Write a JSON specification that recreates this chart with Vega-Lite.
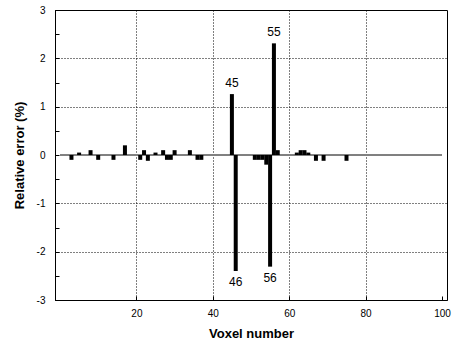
{
  "$schema": "https://vega.github.io/schema/vega-lite/v6.json",
  "width": 392,
  "height": 290,
  "autosize": "none",
  "padding": {"left": 55, "top": 10, "right": 10, "bottom": 45},
  "background": "white",
  "config": {
    "view": {"stroke": "black", "strokeWidth": 1},
    "font": "Liberation Sans"
  },
  "data": {
    "values": [
      {"voxel": 3, "error": -0.1},
      {"voxel": 5, "error": 0.05},
      {"voxel": 8, "error": 0.1},
      {"voxel": 10, "error": -0.1},
      {"voxel": 14, "error": -0.1},
      {"voxel": 17, "error": 0.2},
      {"voxel": 21, "error": -0.1},
      {"voxel": 22, "error": 0.1},
      {"voxel": 23, "error": -0.12},
      {"voxel": 25, "error": 0.05},
      {"voxel": 27, "error": 0.1},
      {"voxel": 28, "error": -0.1},
      {"voxel": 29, "error": -0.1},
      {"voxel": 30, "error": 0.1},
      {"voxel": 34, "error": 0.1},
      {"voxel": 36, "error": -0.1},
      {"voxel": 37, "error": -0.1},
      {"voxel": 45, "error": 1.26, "label": "45"},
      {"voxel": 46, "error": -2.4, "label": "46"},
      {"voxel": 51, "error": -0.1},
      {"voxel": 52, "error": -0.1},
      {"voxel": 53, "error": -0.1},
      {"voxel": 54, "error": -0.2},
      {"voxel": 55, "error": -2.31, "label": "56"},
      {"voxel": 56, "error": 2.31, "label": "55"},
      {"voxel": 57, "error": 0.1},
      {"voxel": 62, "error": 0.05},
      {"voxel": 63, "error": 0.1},
      {"voxel": 64, "error": 0.1},
      {"voxel": 65, "error": 0.05},
      {"voxel": 67, "error": -0.12},
      {"voxel": 69, "error": -0.12},
      {"voxel": 75, "error": -0.12}
    ]
  },
  "encoding": {
    "x": {
      "field": "voxel",
      "type": "quantitative",
      "scale": {"domain": [0, 100], "nice": false, "zero": false},
      "axis": {
        "title": "Voxel number",
        "tickCount": 5,
        "labelExpr": "datum.value === 0 ? '' : '' + datum.value",
        "grid": true,
        "gridColor": "black",
        "gridDash": [1, 2],
        "gridOpacity": {"condition": {"test": "datum.value > 0 && datum.value < 100", "value": 1}, "value": 0},
        "tickColor": "black",
        "tickOpacity": {"condition": {"test": "datum.value > 0", "value": 1}, "value": 0},
        "tickSize": -4,
        "domainColor": "black",
        "labelColor": "black",
        "labelFont": "Liberation Sans",
        "labelFontSize": 10,
        "labelPadding": 12,
        "titleColor": "black",
        "titleFont": "Liberation Sans",
        "titleFontSize": 13,
        "titleFontWeight": "bold",
        "titlePadding": 9
      }
    },
    "y": {
      "field": "error",
      "type": "quantitative",
      "scale": {"domain": [-3, 3], "nice": false},
      "axis": {
        "title": "Relative error (%)",
        "tickCount": 12,
        "labelExpr": "datum.value % 1 === 0 ? '' + datum.value : ''",
        "grid": true,
        "gridColor": "black",
        "gridDash": [1, 2],
        "gridOpacity": {"condition": {"test": "datum.value % 1 === 0 && datum.value !== 0", "value": 1}, "value": 0},
        "tickColor": "black",
        "tickSize": -4,
        "domainColor": "black",
        "labelColor": "black",
        "labelFont": "Liberation Sans",
        "labelFontSize": 10,
        "labelPadding": 14,
        "titleColor": "black",
        "titleFont": "Liberation Sans",
        "titleFontSize": 13,
        "titleFontWeight": "bold",
        "titlePadding": 10
      }
    }
  },
  "layer": [
    {
      "mark": {"type": "rule", "color": "#808080", "strokeWidth": 1},
      "encoding": {"y": {"datum": 0}, "x": {"datum": 0}, "x2": {"datum": 100}}
    },
    {
      "mark": {"type": "bar", "color": "black", "size": 4}
    },
    {
      "transform": [{"filter": "datum.label && datum.error > 0"}],
      "mark": {"type": "text", "fontSize": 12, "baseline": "alphabetic", "dy": -7, "color": "black"},
      "encoding": {"text": {"field": "label"}}
    },
    {
      "transform": [{"filter": "datum.label && datum.error < 0"}],
      "mark": {"type": "text", "fontSize": 12, "baseline": "top", "dy": 6, "color": "black"},
      "encoding": {"text": {"field": "label"}}
    }
  ]
}
